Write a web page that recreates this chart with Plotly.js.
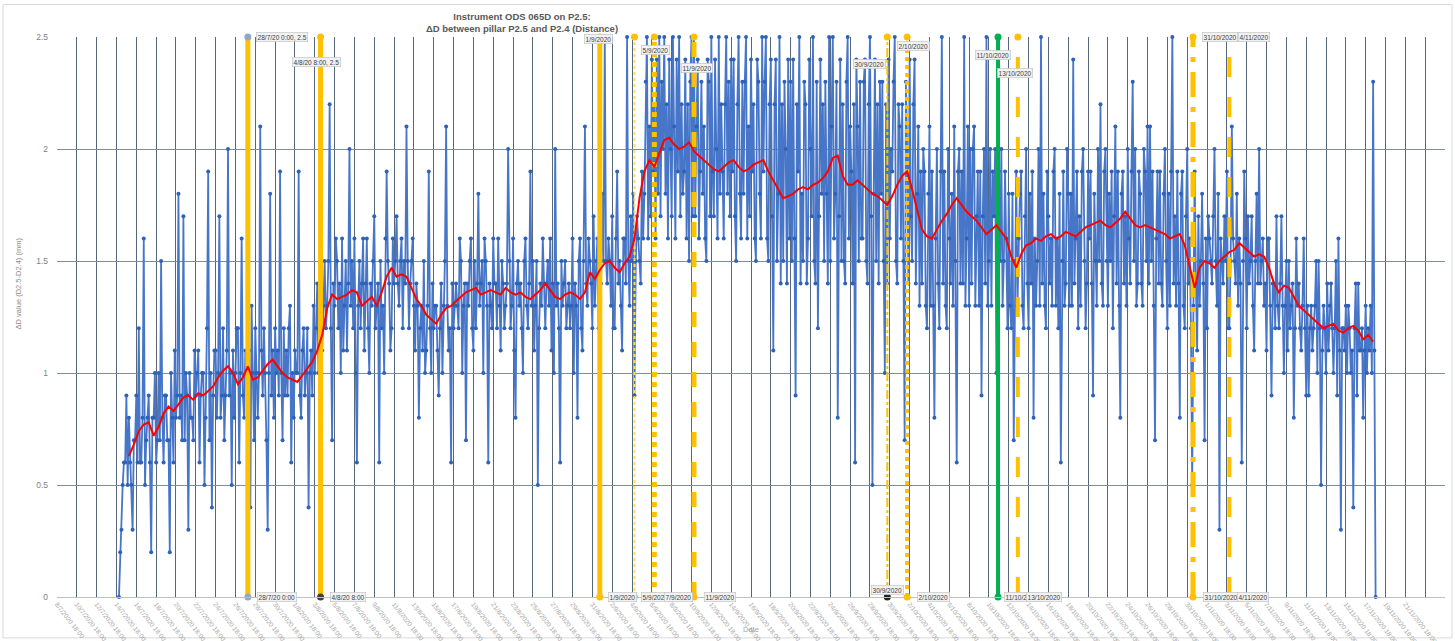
<!DOCTYPE html>
<html>
<head>
<meta charset="utf-8">
<script src="https://cdn.plot.ly/plotly-3.0.1.min.js"></script>
<style>
  html, body { margin: 0; padding: 0; background: #ffffff; }
  #chart { width: 1455px; height: 641px; }
</style>
</head>
<body>
<div id="chart"></div>
<script>
// ΔD readings (mm), every 3 hours, one row per day, one array per month
const julStart = '2020-07-15 00:00';
const julVals = [
  0.0, 0.2, 0.3, 0.5, 0.6, 0.6, 0.9, 0.5,
  0.8, 0.6, 0.5, 0.3, 0.7, 0.7, 0.9, 0.6,
  1.2, 0.6, 0.6, 0.8, 1.6, 0.5, 0.7, 0.8,
  0.9, 0.6, 0.2, 0.8, 0.8, 1.0, 0.6, 0.7,
  1.0, 0.7, 1.5, 0.8, 0.6, 0.9, 0.9, 0.7,
  0.7, 0.2, 1.0, 0.8, 0.6, 1.1, 0.8, 0.9,
  1.8, 0.8, 0.9, 0.7, 1.7, 0.7, 1.0, 0.9,
  0.3, 1.0, 0.8, 0.8, 0.7, 1.1, 0.9, 1.0,
  1.1, 0.6, 0.9, 1.0, 1.0, 0.5, 0.8, 1.2,
  1.9, 0.7, 1.0, 0.4, 0.9, 1.1, 1.1, 0.8,
  1.0, 1.7, 0.8, 0.9, 1.2, 0.7, 0.9, 1.1,
  2.0, 0.9, 1.0, 0.5, 1.1, 0.8, 1.0, 1.2,
  1.2, 0.6, 1.0, 1.6, 0.9, 0.8, 1.1, 1.0,
  0.9, 1.1, 0.4, 1.3, 1.0, 0.7, 1.2, 1.0,
  0.8, 1.0, 2.1, 1.1, 0.9, 1.2, 1.0, 0.7,
  0.3, 1.0, 1.8, 0.9, 1.1, 0.8, 1.2, 1.0,
  1.1, 0.9, 1.9, 1.0, 0.7, 1.2, 0.9, 1.1
];
const augStart = '2020-08-01 00:00';
const augVals = [
  0.9, 1.2, 1.3, 0.6, 1.0, 0.8, 1.1, 1.0,
  1.0, 1.9, 0.9, 0.8, 1.1, 1.2, 0.9, 1.0,
  1.2, 0.4, 1.0, 1.1, 0.9, 1.3, 1.0, 1.2,
  1.4, 1.0, 1.2, 1.6, 1.1, 1.3, 1.5, 1.2,
  1.3, 1.5, 2.2, 1.2, 0.7, 1.4, 1.3, 1.6,
  1.5, 1.2, 1.4, 1.0, 1.6, 1.1, 1.3, 1.5,
  1.1, 1.4, 2.0, 1.3, 1.5, 1.2, 1.6, 1.0,
  0.6, 1.3, 1.5, 1.2, 1.4, 1.6, 1.1, 1.4,
  1.6, 1.2, 1.0, 1.4, 1.3, 1.5, 1.7, 1.2,
  1.3, 1.4, 0.6, 1.5, 1.2, 1.3, 1.0, 1.6,
  1.9, 1.5, 1.4, 1.1, 1.2, 1.6, 1.4, 1.5,
  1.7, 1.4, 1.3, 1.5, 1.6, 1.2, 1.5, 1.4,
  2.1, 1.5, 1.2, 1.4, 1.5, 1.6, 1.3, 1.1,
  1.4, 1.3, 0.8, 1.2, 1.3, 1.1, 1.5, 1.0,
  1.1, 1.3, 1.9, 1.2, 1.0, 1.4, 1.2, 1.3,
  1.3, 1.1, 0.9, 1.2, 1.4, 1.0, 1.3, 1.5,
  2.1, 1.3, 1.1, 1.2, 0.6, 1.4, 1.2, 1.3,
  1.4, 1.3, 1.2, 1.6, 1.5, 1.0, 1.3, 1.4,
  0.7, 1.4, 1.3, 1.5, 1.6, 1.2, 1.1, 1.5,
  1.2, 1.4, 1.8, 1.3, 1.4, 1.5, 1.0, 1.6,
  1.5, 1.3, 0.6, 1.4, 1.3, 1.2, 1.6, 1.4,
  1.4, 1.2, 1.6, 1.3, 1.1, 1.5, 1.4, 1.2,
  1.3, 1.4, 2.0, 1.5, 1.2, 1.3, 1.6, 1.1,
  0.8, 1.4, 1.5, 1.3, 1.4, 1.2, 1.0, 1.5,
  1.6, 1.3, 1.2, 1.4, 1.9, 1.3, 1.5, 1.1,
  1.3, 1.5, 0.5, 1.2, 1.4, 1.3, 1.6, 1.4,
  1.2, 1.4, 1.5, 1.3, 1.6, 1.1, 1.4, 1.0,
  2.0, 1.3, 1.4, 1.2, 0.6, 1.5, 1.3, 1.4,
  1.5, 1.2, 1.3, 1.4, 1.2, 1.3, 1.6, 1.0,
  1.4, 1.3, 0.8, 1.5, 1.6, 1.2, 1.1, 1.5,
  2.1, 1.4, 1.3, 1.6, 1.5, 1.4, 1.2, 1.7
];
const sepStart = '2020-09-01 00:00';
const sepVals = [
  1.3, 1.5, 1.6, 1.2, 1.1, 1.4, 1.8, 1.5,
  2.5, 1.5, 1.4, 1.6, 1.5, 1.3, 1.7, 1.2,
  1.2, 1.6, 1.9, 1.4, 1.5, 1.3, 1.1, 1.6,
  1.6, 1.4, 2.5, 1.5, 1.3, 1.7, 1.5, 1.8,
  0.9, 1.5, 1.7, 1.6, 1.5, 1.4, 1.9, 1.6,
  1.8, 2.3, 2.5, 1.6, 2.1, 1.7, 2.4, 1.9,
  2.2, 1.6, 2.4, 1.8, 2.5, 1.7, 2.3, 2.0,
  2.5, 1.8, 2.2, 1.6, 2.4, 2.0, 1.7, 2.5,
  2.1, 1.6, 2.4, 1.9, 2.5, 1.7, 2.2, 1.8,
  1.9, 2.4, 1.6, 2.2, 1.5, 2.3, 2.5, 1.7,
  2.5, 1.7, 2.1, 2.4, 1.6, 1.9, 2.3, 1.8,
  2.1, 1.6, 1.5, 2.4, 2.3, 1.7, 2.5, 1.9,
  1.7, 2.4, 2.0, 1.6, 2.5, 1.8, 2.2, 1.9,
  1.6, 2.2, 2.5, 1.8, 2.3, 1.7, 2.4, 1.9,
  2.4, 1.7, 1.5, 2.2, 2.5, 1.8, 1.6, 2.3,
  1.8, 2.3, 2.5, 1.6, 2.1, 1.7, 2.4, 1.9,
  2.2, 1.6, 1.5, 2.4, 2.3, 1.8, 1.6, 2.5,
  1.9, 2.3, 2.5, 1.6, 1.5, 2.2, 2.4, 1.7,
  1.1, 2.2, 2.4, 1.5, 1.8, 2.5, 1.4, 2.2,
  1.5, 2.3, 2.0, 1.4, 2.4, 1.6, 2.3, 1.5,
  2.4, 1.6, 0.9, 2.2, 1.9, 2.5, 1.4, 1.8,
  1.5, 2.3, 2.2, 1.4, 1.6, 2.4, 2.0, 1.7,
  2.5, 1.5, 1.4, 2.3, 1.2, 1.7, 2.4, 1.8,
  2.2, 1.5, 2.3, 1.8, 1.4, 2.5, 1.5, 2.1,
  2.5, 1.6, 1.8, 2.3, 0.8, 1.7, 2.4, 1.5,
  2.2, 1.5, 1.4, 2.3, 2.5, 1.6, 2.1, 1.9,
  1.4, 2.2, 0.6, 2.4, 2.1, 1.5, 2.3, 1.6,
  1.6, 2.3, 2.4, 1.5, 1.4, 2.2, 2.5, 1.7,
  0.5, 1.8, 2.4, 1.5, 2.2, 1.4, 2.3, 1.8,
  2.3, 1.5, 1.0, 2.2, 1.4, 2.4, 1.6, 2.0
];
const octStart = '2020-10-01 00:00';
const octVals = [
  1.9, 2.3, 2.5, 1.5, 1.4, 2.2, 2.1, 1.6,
  2.2, 1.5, 0.7, 2.3, 2.0, 1.4, 2.4, 1.7,
  1.5, 2.2, 2.4, 1.4, 1.8, 2.1, 1.3, 1.9,
  1.4, 2.0, 1.9, 1.3, 1.2, 1.8, 2.1, 1.3,
  1.9, 1.3, 0.8, 1.6, 2.0, 1.4, 1.2, 1.9,
  2.5, 1.4, 1.9, 1.3, 1.2, 2.0, 1.6, 1.4,
  1.8, 1.3, 2.1, 1.5, 0.6, 1.9, 2.0, 1.4,
  1.9, 1.4, 2.5, 1.3, 1.6, 2.1, 1.3, 2.0,
  1.4, 2.0, 2.1, 1.3, 1.7, 1.9, 1.3, 1.9,
  0.9, 1.7, 2.0, 1.4, 2.5, 1.3, 1.5, 2.0,
  1.3, 1.9, 1.7, 2.0, 1.0, 1.4, 1.9, 1.5,
  2.0, 1.3, 1.5, 1.9, 1.6, 1.2, 1.8, 1.3,
  1.2, 1.8, 0.7, 1.5, 1.9, 1.3, 1.6, 1.8,
  1.9, 1.3, 1.2, 1.7, 2.0, 1.4, 1.2, 1.8,
  1.4, 1.9, 0.8, 1.6, 1.3, 1.5, 2.0, 1.3,
  2.5, 1.4, 1.8, 1.3, 1.2, 1.9, 1.7, 1.4,
  1.6, 1.3, 1.9, 2.0, 1.3, 1.6, 1.2, 1.8,
  0.6, 1.5, 1.9, 1.3, 1.4, 2.0, 1.8, 1.3,
  1.8, 1.3, 2.4, 1.4, 1.6, 1.9, 1.2, 1.7,
  1.3, 1.9, 2.0, 1.5, 1.2, 1.4, 1.9, 1.6,
  1.9, 1.4, 0.9, 1.8, 1.5, 1.3, 2.0, 1.5,
  2.2, 1.4, 1.3, 1.9, 2.0, 1.5, 1.3, 1.8,
  1.5, 1.9, 1.2, 1.7, 2.1, 1.4, 1.9, 1.3,
  0.8, 1.8, 1.9, 1.4, 1.7, 1.3, 2.0, 1.6,
  1.4, 1.9, 2.3, 1.5, 2.0, 1.3, 1.4, 1.9,
  1.8, 1.4, 1.3, 2.0, 1.9, 1.5, 2.1, 1.4,
  2.1, 1.5, 1.9, 1.3, 0.7, 1.6, 1.9, 1.4,
  1.9, 1.4, 1.3, 1.8, 2.0, 1.5, 1.2, 1.8,
  1.3, 1.9, 2.5, 1.4, 1.7, 1.3, 1.9, 1.4,
  0.8, 1.8, 1.9, 1.3, 1.2, 1.7, 2.0, 1.4,
  1.6, 1.2, 0.5, 1.3, 1.9, 1.4, 1.1, 1.7
];
const novStart = '2020-11-01 00:00';
const novVals = [
  1.3, 1.5, 1.8, 1.4, 0.7, 1.6, 1.2, 1.7,
  1.6, 1.5, 1.4, 1.7, 2.0, 1.5, 1.3, 1.8,
  0.3, 1.6, 1.5, 1.4, 1.7, 1.5, 1.9, 1.2,
  1.2, 1.5, 2.1, 1.6, 1.5, 1.4, 1.8, 1.3,
  1.6, 1.4, 0.6, 1.5, 1.9, 1.6, 1.2, 1.7,
  1.4, 1.5, 1.7, 1.3, 1.1, 1.5, 1.8, 1.4,
  2.0, 1.4, 1.5, 1.6, 1.3, 1.4, 1.1, 1.6,
  1.6, 1.3, 0.9, 1.4, 1.4, 1.2, 1.7, 1.3,
  1.2, 1.4, 1.7, 1.3, 1.0, 1.3, 1.5, 1.1,
  1.5, 1.2, 1.3, 1.4, 0.8, 1.2, 1.6, 1.3,
  1.4, 1.2, 1.1, 1.3, 1.6, 1.2, 0.9, 1.3,
  0.9, 1.2, 1.3, 1.1, 1.2, 1.3, 1.5, 1.0,
  1.5, 1.2, 0.5, 1.1, 1.3, 1.2, 1.0, 1.4,
  1.1, 1.3, 1.4, 1.2, 1.0, 1.2, 1.5, 0.9,
  1.6, 1.1, 0.3, 1.2, 1.2, 1.1, 1.3, 1.0,
  1.3, 1.2, 1.0, 1.1, 0.4, 1.2, 1.4, 0.9,
  1.4, 1.1, 1.1, 1.2, 0.8, 1.1, 1.3, 1.0,
  1.2, 1.1, 1.3, 1.0, 2.3, 1.1, 0.0
];

// Moving average of ΔD (mm), every 12 hours
const avgJulStart = '2020-07-16 00:00';
const avgJul = [0.63,0.68,0.74,0.77,0.78,0.72,0.76,0.82,0.85,0.83,0.86,0.89,0.90,0.88,0.91,0.90,
  0.92,0.94,0.98,1.01,1.03,1.00,0.95,0.98,1.03,0.97,0.98,1.01,1.04,1.06,1.03,1.00];
const avgAugStart = '2020-08-01 00:00';
const avgAug = [0.98,0.97,0.96,0.99,1.02,1.05,1.10,1.17,1.29,1.35,1.33,1.34,1.35,1.37,1.36,1.30,
  1.32,1.34,1.30,1.36,1.43,1.47,1.43,1.44,1.43,1.38,1.33,1.30,1.26,1.24,1.22,1.26,1.29,1.30,1.32,
  1.34,1.36,1.37,1.38,1.35,1.36,1.37,1.36,1.35,1.38,1.36,1.35,1.36,1.34,1.33,1.35,1.37,1.40,1.37,
  1.34,1.33,1.35,1.36,1.35,1.33,1.36,1.45];
const avgSepStart = '2020-09-01 00:00';
const avgSep = [1.42,1.46,1.49,1.50,1.47,1.45,1.49,1.52,1.60,1.78,1.90,1.95,1.92,1.98,2.04,2.05,
  2.02,2.00,2.01,2.03,1.99,1.97,1.95,1.93,1.91,1.90,1.92,1.94,1.95,1.92,1.90,1.91,1.93,1.94,1.95,
  1.90,1.86,1.82,1.78,1.79,1.80,1.82,1.83,1.82,1.84,1.85,1.87,1.90,1.96,1.97,1.88,1.84,1.84,1.86,
  1.84,1.82,1.80,1.79,1.77,1.75];
const avgOctStart = '2020-10-01 00:00';
const avgOct = [1.79,1.84,1.88,1.90,1.82,1.73,1.64,1.61,1.60,1.64,1.68,1.71,1.75,1.78,1.75,1.72,
  1.70,1.68,1.65,1.62,1.64,1.66,1.63,1.60,1.52,1.47,1.53,1.57,1.58,1.60,1.59,1.61,1.62,1.60,1.61,
  1.63,1.62,1.61,1.63,1.65,1.66,1.67,1.68,1.66,1.65,1.67,1.69,1.72,1.69,1.66,1.65,1.66,1.65,1.64,
  1.63,1.62,1.60,1.61,1.62,1.57,1.48,1.38];
const avgNovStart = '2020-11-01 00:00';
const avgNov = [1.47,1.50,1.49,1.47,1.50,1.52,1.54,1.55,1.58,1.56,1.54,1.52,1.53,1.52,1.47,1.40,
  1.36,1.39,1.38,1.34,1.30,1.28,1.26,1.24,1.22,1.20,1.21,1.22,1.19,1.18,1.20,1.21,1.19,1.15,1.17,1.14];

// Site events (vertical markers) and their labels
const eventDates = ['2020-07-28 00:00','2020-08-04 08:00','2020-09-01 12:00','2020-09-05 00:00',
  '2020-09-07 00:00','2020-09-11 00:00','2020-09-30 12:00','2020-10-02 12:00','2020-10-11 16:00',
  '2020-10-13 16:00','2020-10-31 08:00','2020-11-04 00:00'];
const eventLabels = ['28/7/20 0:00','4/8/20 8:00','1/9/2020','5/9/2020','7/9/2020','11/9/2020',
  '30/9/2020','2/10/2020','11/10/2020','13/10/2020','31/10/2020','4/11/2020'];
const eventTop = 2.5;

// ---- helpers ----
function parseDate(s) { return Date.parse(s.replace(' ', 'T') + ':00Z'); }
function fmtDate(ms) { return new Date(ms).toISOString().slice(0, 19).replace('T', ' '); }
function timeline(start, stepHours, vals) {
  const t0 = parseDate(start);
  return vals.map((_, i) => fmtDate(t0 + i * stepHours * 3600000));
}

const rawX = [].concat(
  timeline(julStart, 3, julVals), timeline(augStart, 3, augVals), timeline(sepStart, 3, sepVals),
  timeline(octStart, 3, octVals), timeline(novStart, 3, novVals));
const rawY = [].concat(julVals, augVals, sepVals, octVals, novVals);

const avgX = [].concat(
  timeline(avgJulStart, 12, avgJul), timeline(avgAugStart, 12, avgAug), timeline(avgSepStart, 12, avgSep),
  timeline(avgOctStart, 12, avgOct), timeline(avgNovStart, 12, avgNov));
const avgY = [].concat(avgJul, avgAug, avgSep, avgOct, avgNov);

const YEL = '#FFC000', GRN = '#00B050';
const eventStyle = [
  { color: YEL, width: 5, dash: 'solid', mk: '#8FA8C8' },
  { color: YEL, width: 5, dash: 'solid', mk: YEL, mkFoot: '#404040' },
  { color: YEL, width: 5, dash: 'solid', mk: YEL },
  { color: '#FFD966', width: 2, dash: 'dot', mk: YEL },
  { color: YEL, width: 5, dash: 'dot', mk: YEL },
  { color: YEL, width: 5, dash: 'dash', mk: YEL },
  { color: YEL, width: 2, dash: 'dashdot', mk: YEL, mkFoot: '#222222' },
  { color: YEL, width: 4, dash: 'dot', mk: YEL },
  { color: GRN, width: 4, dash: 'solid', mk: GRN },
  { color: YEL, width: 4, dash: 'longdash', mk: YEL },
  { color: YEL, width: 5, dash: 'longdashdot', mk: YEL },
  { color: YEL, width: 4, dash: 'longdash', mk: YEL }
];

const traces = [];
traces.push({
  type: 'scatter', mode: 'lines+markers', x: rawX, y: rawY, cliponaxis: false,
  line: { color: '#4776C8', width: 1.8 },
  marker: { color: '#2E62B8', size: 4 },
  showlegend: false
});
eventDates.forEach((d, i) => {
  const s = eventStyle[i];
  traces.push({
    type: 'scatter', mode: 'lines+markers', x: [d, d], y: [0, eventTop], cliponaxis: false,
    line: { color: s.color, width: s.width, dash: s.dash },
    marker: { color: [s.mkFoot || s.mk, s.mk], size: 7 },
    showlegend: false
  });
});
traces.push({
  type: 'scatter', mode: 'lines', x: avgX, y: avgY,
  line: { color: '#FF0000', width: 2 },
  showlegend: false
});

// label boxes at the top and foot of each event line
const boxStyle = { bgcolor: '#F2F2F2', bordercolor: '#BFBFBF', borderwidth: 0.6, borderpad: 1,
  font: { size: 6.5, color: '#404040', family: 'Liberation Sans, Arial, sans-serif' }, showarrow: false };
const topPlace = [
  { y: 2.5, anchor: 'left', shift: 8 },
  { y: 2.39, anchor: 'center', shift: -4 },
  { y: 2.49, anchor: 'center', shift: -1 },
  { y: 2.44, anchor: 'left', shift: 6 },
  null,
  { y: 2.36, anchor: 'center', shift: 3 },
  { y: 2.38, anchor: 'right', shift: -1 },
  { y: 2.46, anchor: 'center', shift: 6 },
  { y: 2.42, anchor: 'center', shift: -5 },
  { y: 2.34, anchor: 'center', shift: -3 },
  { y: 2.5, anchor: 'left', shift: 9 },
  { y: 2.5, anchor: 'left', shift: 9 }
];
const footPlace = [
  { y: 0, anchor: 'left', shift: 9 },
  { y: 0, anchor: 'left', shift: 9 },
  { y: 0, anchor: 'left', shift: 8 },
  { y: 0, anchor: 'left', shift: 6 },
  { y: 0, anchor: 'left', shift: 10 },
  { y: 0, anchor: 'left', shift: 10 },
  { y: 0.03, anchor: 'center', shift: 0 },
  { y: 0, anchor: 'left', shift: 10 },
  { y: 0, anchor: 'left', shift: 6 },
  { y: 0, anchor: 'left', shift: 8 },
  { y: 0, anchor: 'left', shift: 10 },
  { y: 0, anchor: 'left', shift: 8 }
];
const annotations = [];
eventDates.forEach((d, i) => {
  const t = topPlace[i];
  if (t) {
    const txt = i < 2 ? eventLabels[i] + ', ' + eventTop : eventLabels[i];
    annotations.push(Object.assign({ x: d, y: t.y, xref: 'x', yref: 'y', text: txt,
      xanchor: t.anchor, yanchor: 'middle', xshift: t.shift }, boxStyle));
  }
  const f = footPlace[i];
  annotations.push(Object.assign({ x: d, y: f.y, xref: 'x', yref: 'y', text: eventLabels[i],
    xanchor: f.anchor, yanchor: 'middle', xshift: f.shift }, boxStyle));
});
annotations.push({
  x: -0.0325, y: 0.5, xref: 'paper', yref: 'paper', yshift: 34, text: 'ΔD value (D2.5-D2.4) (mm)',
  textangle: -90, showarrow: false, font: { size: 7.5, color: '#8C8C8C' }
});
annotations.push({
  x: 0.5, y: -0.07, xref: 'paper', yref: 'paper', text: 'Date', showarrow: false,
  font: { size: 7.5, color: '#A6A6A6' }
});

const layout = {
  width: 1455, height: 641,
  margin: { l: 57, r: 10, t: 37, b: 44 },
  paper_bgcolor: '#FFFFFF', plot_bgcolor: '#FFFFFF',
  font: { family: 'Liberation Sans, Arial, sans-serif', color: '#595959' },
  title: {
    text: '<b>Instrument ODS 065D on P2.5:</b><br><b>ΔD between pillar P2.5 and P2.4 (Distance)</b>',
    x: 522 / 1455, xanchor: 'center', xref: 'container',
    y: 1 - 20 / 641, yanchor: 'middle', yref: 'container',
    font: { size: 9.5, color: '#595959' }
  },
  xaxis: {
    type: 'date', range: ['2020-07-08 18:00', '2020-11-25 18:00'],
    tick0: '2020-07-08 18:00', dtick: 2 * 86400000,
    tickformat: '%-d/%-m/%Y %-H:%M', tickangle: 52,
    tickfont: { size: 6.5, color: '#A6A6A6' },
    showgrid: true, gridcolor: '#56677A', gridwidth: 1,
    zeroline: false, showline: true, linecolor: '#BFBFBF', ticks: '', fixedrange: true
  },
  yaxis: {
    range: [0, 2.5], dtick: 0.5, tick0: 0,
    tickfont: { size: 8.5, color: '#7F7F7F' }, ticklabelstandoff: 8,
    showgrid: true, gridcolor: '#7D8EA0', gridwidth: 1,
    zeroline: false, showline: false, ticks: '', fixedrange: true
  },
  shapes: [{
    type: 'rect', xref: 'paper', yref: 'paper',
    x0: -0.0389, x1: 1.005, y0: -0.073, y1: 1.058,
    line: { color: '#D9D9D9', width: 1 }, fillcolor: 'rgba(0,0,0,0)', layer: 'below'
  }],
  annotations: annotations,
  showlegend: false
};

Plotly.newPlot('chart', traces, layout, { staticPlot: true, displayModeBar: false });
</script>
</body>
</html>
